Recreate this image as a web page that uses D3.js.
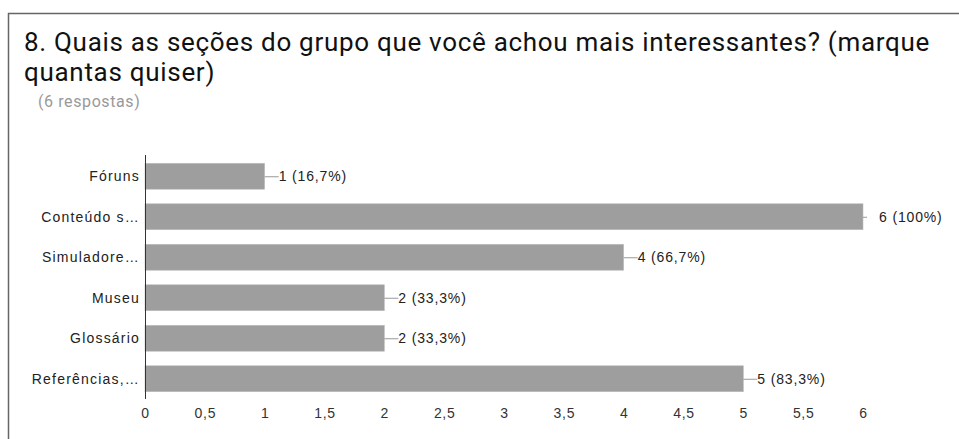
<!DOCTYPE html>
<html>
<head>
<meta charset="utf-8">
<script src="https://cdn.jsdelivr.net/npm/d3@7"></script>
<style>
  body { margin: 0; background: #fff; }
  svg { display: block; }
</style>
</head>
<body>
<div id="chart"></div>
<script>
const categories = ["Fóruns", "Conteúdo s…", "Simuladore…", "Museu", "Glossário", "Referências,…"];
const counts = [1, 6, 4, 2, 2, 5];
const percents = ["16,7%", "100%", "66,7%", "33,3%", "33,3%", "83,3%"];
const ticks = [0, 0.5, 1, 1.5, 2, 2.5, 3, 3.5, 4, 4.5, 5, 5.5, 6];

const width = 959, height = 439;
const svg = d3.select("#chart").append("svg")
  .attr("width", width)
  .attr("height", height);

// card frame (top and left edge)
svg.append("line").attr("x1", 8).attr("x2", width).attr("y1", 13.5).attr("y2", 13.5)
  .attr("stroke", "#666").attr("stroke-width", 1.5);
svg.append("line").attr("x1", 8.5).attr("x2", 8.5).attr("y1", 13).attr("y2", height)
  .attr("stroke", "#666").attr("stroke-width", 1.5);

const title = svg.append("g")
  .attr("font-family", "Roboto").attr("font-size", 26).attr("fill", "#111")
  .attr("letter-spacing", 0.7);
title.append("text").attr("x", 24).attr("y", 51)
  .text("8. Quais as seções do grupo que você achou mais interessantes? (marque");
title.append("text").attr("x", 24).attr("y", 81)
  .text("quantas quiser)");
svg.append("text").attr("x", 38).attr("y", 107)
  .attr("font-family", "Roboto").attr("font-size", 16).attr("fill", "#999")
  .attr("letter-spacing", 0.6)
  .text("(6 respostas)");

const x = d3.scaleLinear().domain([0, 6]).range([145, 863]);
const y = d3.scaleBand().domain(categories).range([156, 399]).paddingInner(0.36).paddingOuter(0.18);

const font = "Liberation Sans, Arial, sans-serif";

// bars
svg.append("g").selectAll("rect")
  .data(categories)
  .join("rect")
  .attr("x", x(0))
  .attr("y", d => y(d))
  .attr("width", (d, i) => x(counts[i]) - x(0))
  .attr("height", y.bandwidth())
  .attr("fill", "#9e9e9e")
  .attr("stroke", "#bdbdbd")
  .attr("stroke-width", 0.6);

// value leaders + labels
const lab = svg.append("g");
categories.forEach((c, i) => {
  const cy = y(c) + y.bandwidth() / 2;
  const x0 = x(counts[i]);
  const isMax = counts[i] === d3.max(counts);
  lab.append("line")
    .attr("x1", x0).attr("x2", x0 + (isMax ? 4 : 14))
    .attr("y1", cy + 0.5).attr("y2", cy + 0.5)
    .attr("stroke", "#999").attr("stroke-width", 1);
  lab.append("text")
    .attr("x", x0 + (isMax ? 16 : 14)).attr("y", cy + 5)
    .attr("font-family", font).attr("font-size", 14).attr("fill", "#222")
    .attr("letter-spacing", 0.85)
    .text(`${counts[i]} (${percents[i]})`);
});

// category axis
const yAxis = svg.append("g").attr("transform", `translate(${x(0)},0)`)
  .call(d3.axisLeft(y).tickSize(0).tickPadding(5));
yAxis.select(".domain").attr("stroke", "#333").attr("d", `M0.5,155V399`);
yAxis.selectAll("text").attr("font-family", font).attr("font-size", 14).attr("fill", "#222")
  .attr("letter-spacing", 1.2).attr("dy", "0.36em");

// value axis
const xAxis = svg.append("g").attr("transform", "translate(0,399)")
  .call(d3.axisBottom(x).tickValues(ticks).tickSize(0).tickPadding(9)
    .tickFormat(d => String(d).replace(".", ",")));
xAxis.select(".domain").remove();
xAxis.selectAll("text").attr("font-family", font).attr("font-size", 14).attr("fill", "#333")
  .attr("letter-spacing", 0.7);
</script>
</body>
</html>
